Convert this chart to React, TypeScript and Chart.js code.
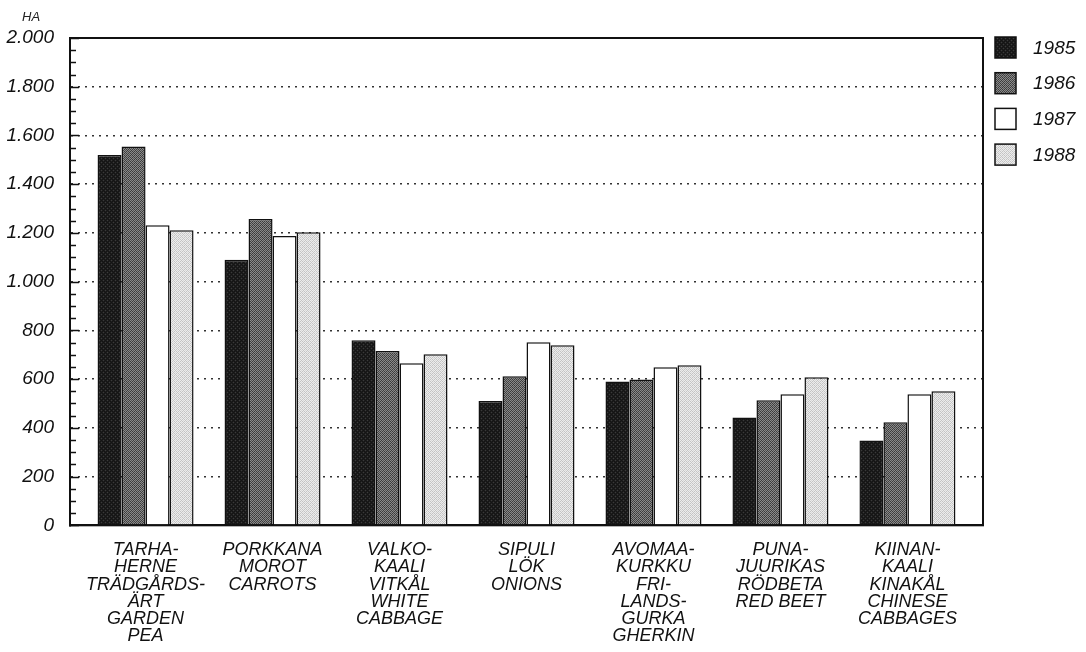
import React, { useEffect, useRef } from "react";
import { Chart, registerables } from "chart.js";

Chart.register(...registerables);

const categories: string[][] = [
  ["TARHA-", "HERNE", "TRÄDGÅRDS-", "ÄRT", "GARDEN", "PEA"],
  ["PORKKANA", "MOROT", "CARROTS"],
  ["VALKO-", "KAALI", "VITKÅL", "WHITE", "CABBAGE"],
  ["SIPULI", "LÖK", "ONIONS"],
  ["AVOMAA-", "KURKKU", "FRI-", "LANDS-", "GURKA", "GHERKIN"],
  ["PUNA-", "JUURIKAS", "RÖDBETA", "RED BEET"],
  ["KIINAN-", "KAALI", "KINAKÅL", "CHINESE", "CABBAGES"],
];

const years = ["1985", "1986", "1987", "1988"];
const values1985 = [1520, 1090, 760, 510, 590, 443, 348];
const values1986 = [1555, 1257, 715, 612, 598, 513, 423];
const values1987 = [1232, 1187, 665, 751, 649, 538, 538];
const values1988 = [1211, 1203, 702, 739, 657, 608, 550];

const yTicks = [0, 200, 400, 600, 800, 1000, 1200, 1400, 1600, 1800, 2000];

function makePattern(a: string, b: string, c: string): CanvasPattern | string {
  const cv = document.createElement("canvas");
  cv.width = 4;
  cv.height = 4;
  const ctx = cv.getContext("2d");
  if (!ctx) return a;
  ctx.fillStyle = a;
  ctx.fillRect(0, 0, 4, 4);
  ctx.fillStyle = b;
  for (let y = 0; y < 4; y++) {
    for (let x = 0; x < 4; x++) {
      if ((x + y) % 2 === 0) ctx.fillRect(x, y, 1, 1);
    }
  }
  ctx.fillStyle = c;
  ctx.fillRect(1, 2, 1, 1);
  ctx.fillRect(3, 0, 1, 1);
  const p = ctx.createPattern(cv, "repeat");
  return p || a;
}

const FONT = "'Liberation Sans', Arial, sans-serif";

export default function App() {
  const ref = useRef<HTMLCanvasElement | null>(null);
  useEffect(() => {
    if (!ref.current) return;
    const fills = [
      makePattern("#141414", "#1e1e1e", "#3a3a3a"),
      makePattern("#3c3c3c", "#8a8a8a", "#555555"),
      "#ffffff",
      makePattern("#c4c4c4", "#ececec", "#d8d8d8"),
    ];
    const seriesValues = [values1985, values1986, values1987, values1988];

    const framePlugin = {
      id: "frame",
      afterDraw(chart: any) {
        const { ctx, chartArea } = chart;
        const { left, right, top, bottom } = chartArea;
        const y = chart.scales.y;
        ctx.save();
        ctx.setLineDash([]);
        ctx.strokeStyle = "#111";
        ctx.lineWidth = 2;
        ctx.strokeRect(left, top, right - left, bottom - top);
        ctx.lineWidth = 1.5;
        for (let v = 0; v <= 2000; v += 50) {
          const py = Math.round(y.getPixelForValue(v)) + 0.5;
          const len = v % 200 === 0 ? 9 : 6;
          ctx.beginPath();
          ctx.moveTo(left, py);
          ctx.lineTo(left + len, py);
          ctx.stroke();
        }
        ctx.fillStyle = "#222";
        ctx.font = `italic 13px ${FONT}`;
        ctx.textAlign = "left";
        ctx.textBaseline = "alphabetic";
        ctx.fillText("HA", 22, 21);

        // legend
        const boxX = right + 12;
        const boxSize = 21;
        const step = 35.7;
        chart.data.datasets.forEach((ds: any, i: number) => {
          const by = top - 1 + i * step;
          ctx.fillStyle = ds.backgroundColor;
          ctx.fillRect(boxX, by, boxSize, boxSize);
          ctx.strokeStyle = "#111";
          ctx.lineWidth = 1.5;
          ctx.strokeRect(boxX, by, boxSize, boxSize);
          ctx.fillStyle = "#111";
          ctx.font = `italic 19px ${FONT}`;
          ctx.textBaseline = "middle";
          ctx.fillText(ds.label, boxX + 38, by + boxSize / 2 + 1);
        });
        ctx.restore();
      },
    };

    const chart = new Chart(ref.current, {
      type: "bar",
      data: {
        labels: categories,
        datasets: years.map((yr, i) => ({
          label: yr,
          data: seriesValues[i],
          backgroundColor: fills[i] as any,
          borderColor: "#111",
          borderWidth: 1.5,
          borderSkipped: "bottom" as any,
          categoryPercentage: 0.756,
          barPercentage: 1.0,
        })),
      },
      options: {
        animation: false,
        responsive: false,
        maintainAspectRatio: false,
        layout: { padding: { top: 38, right: 103, left: 2, bottom: 0 } },
        plugins: {
          tooltip: { enabled: false },
          legend: { display: false },
        },
        scales: {
          x: {
            afterBuildTicks(scale: any) {
              const d = 0.095;
              scale._startValue = scale._startValue - d;
              scale._valueRange = scale._valueRange + 2 * d;
            },
            grid: { display: false, drawTicks: false },
            border: { color: "#111", width: 2 },
            ticks: {
              color: "#111",
              font: { family: FONT, size: 18, style: "italic", lineHeight: 0.96 },
              maxRotation: 0,
              autoSkip: false,
              padding: 16,
            },
          },
          y: {
            min: 0,
            max: 2000,
            afterBuildTicks(scale: any) {
              scale.ticks = yTicks.map((v) => ({ value: v }));
            },
            afterFit(scale: any) {
              scale.width = 68;
            },
            grid: {
              color: (c: any) => (c.tick && (c.tick.value === 0 || c.tick.value === 2000) ? "rgba(0,0,0,0)" : "#333"),
              lineWidth: 1.5,
              drawTicks: false,
            },
            border: { color: "#111", width: 2, dash: [2, 5] },
            ticks: {
              color: "#111",
              padding: 16,
              font: { family: FONT, size: 19, style: "italic" },
              callback: (v: any) => {
                const n = Number(v);
                if (n >= 1000) {
                  const th = Math.floor(n / 1000);
                  const rest = String(n % 1000).padStart(3, "0");
                  return `${th}.${rest}`;
                }
                return String(n);
              },
            },
          },
        },
      } as any,
      plugins: [framePlugin],
    });
    return () => chart.destroy();
  }, []);

  return (
    <div style={{ position: "absolute", left: 0, top: 0, width: 1086, height: 652, overflow: "hidden", background: "#fff" }}>
      <canvas ref={ref} width={1086} height={661} />
    </div>
  );
}
